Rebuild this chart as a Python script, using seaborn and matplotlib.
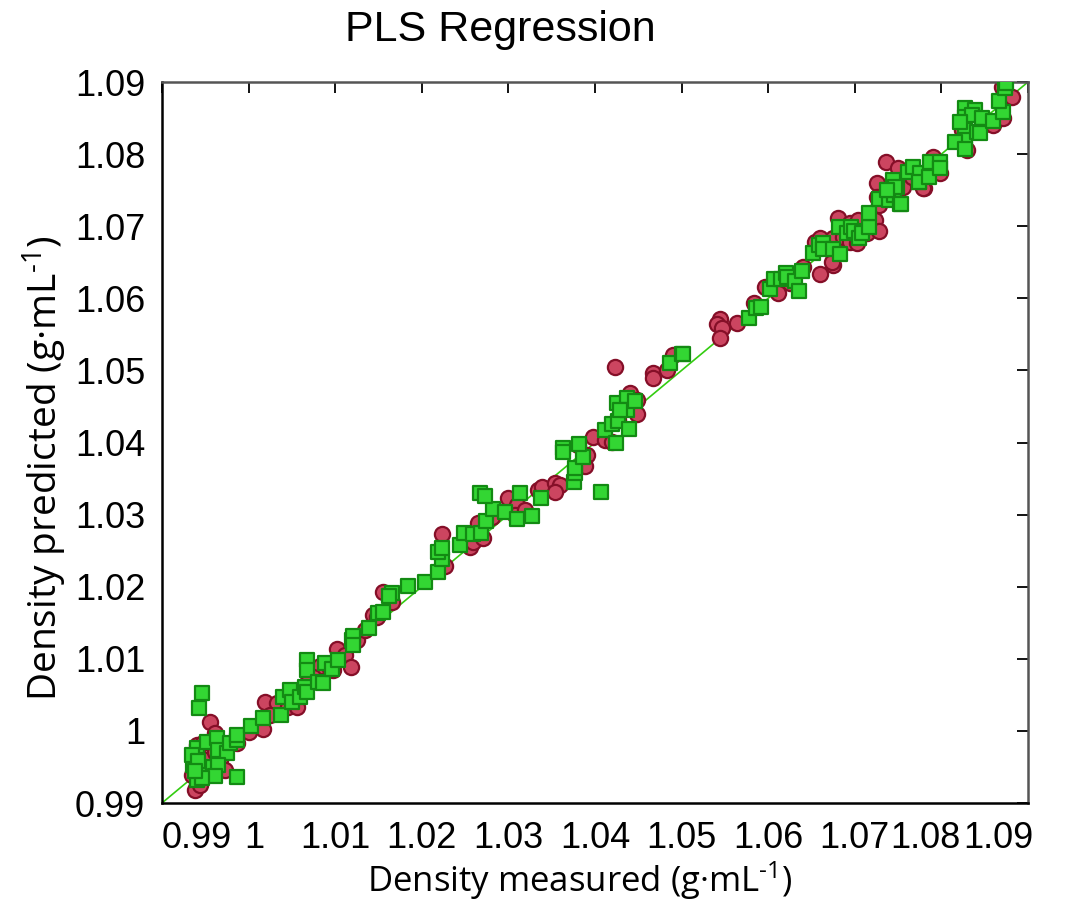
import matplotlib
matplotlib.use("Agg")
import matplotlib.pyplot as plt
import matplotlib.transforms as mtransforms
import seaborn as sns
import pandas as pd
import numpy as np

# Calibration set (red circles)
cal_measured = [
    0.9955, 0.9961, 0.9940, 0.9947, 0.9965, 0.9940, 1.0017, 1.0001, 0.9987, 1.0019,
    1.0033, 1.0025, 1.0046, 1.0056, 1.0054, 1.0082, 1.0092, 1.0102, 1.0111, 1.0118,
    1.0098, 1.0125, 1.0134, 1.0144, 1.0148, 1.0155, 1.0166, 1.0074, 1.0067,
    0.9938, 0.9944, 0.9935, 0.9955, 0.9950, 0.9961, 0.9967, 0.9973,
    1.0223, 1.0227, 1.0256, 1.0265, 1.0259, 1.0271, 1.0281, 1.0300, 1.0310, 1.0308,
    1.0319, 1.0334, 1.0339, 1.0354, 1.0360, 1.0354, 1.0380, 1.0391, 1.0389, 1.0398,
    1.0412, 1.0423, 1.0440, 1.0449, 1.0449, 1.0427, 1.0467, 1.0467, 1.0483, 1.0490, 1.0420,
    1.0544, 1.0541, 1.0547, 1.0544, 1.0564, 1.0584, 1.0596, 1.0611, 1.0625, 1.0640,
    1.0660, 1.0675, 1.0674, 1.0654, 1.0660, 1.0668, 1.0675, 1.0681, 1.0686, 1.0695,
    1.0703, 1.0695, 1.0704, 1.0714, 1.0723, 1.0728, 1.0726, 1.0726, 1.0728, 1.0756, 1.0780,
    1.0736, 1.0750, 1.0790, 1.0798, 1.0779, 1.0766, 1.0830, 1.0825, 1.0848, 1.0860,
    1.0871, 1.0870, 1.0882, 1.0824,
]
cal_predicted = [
    1.0012, 0.9997, 0.9980, 0.9983, 0.9950, 0.9925, 1.0003, 0.9999, 0.9983, 1.0040,
    1.0039, 1.0022, 1.0033, 1.0033, 1.0054, 1.0090, 1.0091, 1.0114, 1.0105, 1.0089,
    1.0085, 1.0126, 1.0140, 1.0161, 1.0158, 1.0193, 1.0179, 1.0075, 1.0066,
    0.9918, 0.9925, 0.9939, 0.9946, 0.9960, 0.9971, 0.9960, 0.9946,
    1.0273, 1.0229, 1.0255, 1.0288, 1.0262, 1.0268, 1.0297, 1.0323, 1.0313, 1.0299,
    1.0306, 1.0334, 1.0338, 1.0344, 1.0341, 1.0331, 1.0397, 1.0383, 1.0367, 1.0408,
    1.0404, 1.0505, 1.0469, 1.0459, 1.0440, 1.0431, 1.0496, 1.0490, 1.0501, 1.0521, 1.0401,
    1.0571, 1.0564, 1.0559, 1.0545, 1.0566, 1.0594, 1.0616, 1.0607, 1.0621, 1.0643,
    1.0634, 1.0646, 1.0650, 1.0678, 1.0684, 1.0670, 1.0684, 1.0711, 1.0685, 1.0678,
    1.0677, 1.0704, 1.0709, 1.0691, 1.0709, 1.0693, 1.0760, 1.0741, 1.0729, 1.0754, 1.0753,
    1.0789, 1.0781, 1.0796, 1.0774, 1.0753, 1.0768, 1.0806, 1.0847, 1.0840, 1.0840,
    1.0850, 1.0893, 1.0879, 1.0833,
]

# Validation set (green squares)
val_measured = [
    0.9946, 0.9943, 0.9987, 0.9940, 0.9952, 0.9964, 0.9965, 0.9975, 0.9979, 0.9987,
    0.9987, 0.9940, 0.9940, 0.9940, 0.9950, 0.9959, 0.9965, 0.9961, 0.9936, 0.9946,
    0.9935, 0.9942, 0.9938,
    1.0003, 1.0017, 1.0037, 1.0040, 1.0048, 1.0050, 1.0059, 1.0065, 1.0067, 1.0067,
    1.0067, 1.0080, 1.0086, 1.0088, 1.0096, 1.0103, 1.0119, 1.0121, 1.0121, 1.0139,
    1.0149, 1.0155, 1.0166, 1.0162, 1.0184, 1.0204, 1.0219,
    1.0223, 1.0219, 1.0223, 1.0244, 1.0249, 1.0259, 1.0268, 1.0274, 1.0282, 1.0267,
    1.0273, 1.0296, 1.0310, 1.0313, 1.0327, 1.0338, 1.0376, 1.0377, 1.0377, 1.0386,
    1.0363, 1.0363, 1.0382, 1.0407, 1.0412, 1.0420, 1.0424, 1.0427, 1.0439, 1.0425,
    1.0437, 1.0437, 1.0446, 1.0429, 1.0487, 1.0500,
    1.0502, 1.0578, 1.0586, 1.0592, 1.0602, 1.0607, 1.0615, 1.0621, 1.0622, 1.0631,
    1.0636, 1.0639, 1.0652, 1.0659, 1.0663, 1.0663, 1.0675, 1.0683, 1.0682, 1.0691,
    1.0696, 1.0699, 1.0705, 1.0708, 1.0716, 1.0716, 1.0728, 1.0740, 1.0745, 1.0752,
    1.0738, 1.0749, 1.0774,
    1.0761, 1.0767, 1.0775, 1.0774, 1.0786, 1.0787, 1.0798, 1.0798, 1.0744, 1.0746,
    1.0737, 1.0753, 1.0827, 1.0839, 1.0827, 1.0835, 1.0847, 1.0827, 1.0827, 1.0816,
    1.0827, 1.0822, 1.0841, 1.0845, 1.0860, 1.0871, 1.0867, 1.0873, 1.0875,
]
val_predicted = [
    1.0053, 1.0032, 0.9936, 0.9976, 0.9985, 0.9990, 0.9974, 0.9969, 0.9983, 0.9987,
    0.9994, 0.9960, 0.9942, 0.9932, 0.9946, 0.9950, 0.9953, 0.9937, 0.9953, 0.9935,
    0.9967, 0.9958, 0.9945,
    1.0007, 1.0018, 1.0022, 1.0047, 1.0057, 1.0040, 1.0047, 1.0061, 1.0054, 1.0098,
    1.0085, 1.0068, 1.0066, 1.0094, 1.0086, 1.0098, 1.0126, 1.0132, 1.0119, 1.0143,
    1.0164, 1.0165, 1.0191, 1.0187, 1.0201, 1.0207, 1.0220,
    1.0238, 1.0248, 1.0254, 1.0258, 1.0275, 1.0273, 1.0275, 1.0291, 1.0308, 1.0330,
    1.0326, 1.0304, 1.0294, 1.0330, 1.0298, 1.0323, 1.0345, 1.0358, 1.0365, 1.0380,
    1.0392, 1.0387, 1.0398, 1.0331, 1.0417, 1.0426, 1.0399, 1.0430, 1.0419, 1.0455,
    1.0462, 1.0445, 1.0458, 1.0445, 1.0510, 1.0523,
    1.0523, 1.0573, 1.0587, 1.0588, 1.0613, 1.0627, 1.0627, 1.0635, 1.0630, 1.0624,
    1.0610, 1.0638, 1.0663, 1.0674, 1.0677, 1.0668, 1.0668, 1.0661, 1.0699, 1.0691,
    1.0699, 1.0693, 1.0684, 1.0691, 1.0699, 1.0718, 1.0738, 1.0736, 1.0743, 1.0731,
    1.0750, 1.0754, 1.0761,
    1.0775, 1.0782, 1.0774, 1.0761, 1.0768, 1.0789, 1.0789, 1.0781, 1.0764, 1.0754,
    1.0750, 1.0731, 1.0864, 1.0861, 1.0852, 1.0854, 1.0850, 1.0833, 1.0820, 1.0817,
    1.0807, 1.0845, 1.0831, 1.0829, 1.0846, 1.0858, 1.0874, 1.0892, 1.0898,
]

ticks = [0.99, 1.00, 1.01, 1.02, 1.03, 1.04, 1.05, 1.06, 1.07, 1.08, 1.09]
tick_labels = ["0.99", "1", "1.01", "1.02", "1.03", "1.04", "1.05", "1.06", "1.07", "1.08", "1.09"]

cal = pd.DataFrame({"measured": cal_measured, "predicted": cal_predicted})
val = pd.DataFrame({"measured": val_measured, "predicted": val_predicted})

sns.set_theme(style="white")
plt.rcParams["font.family"] = ["Liberation Sans", "DejaVu Sans"]
plt.rcParams["text.color"] = "black"
plt.rcParams["axes.labelcolor"] = "black"
plt.rcParams["mathtext.fontset"] = "custom"
plt.rcParams["mathtext.rm"] = "Open Sans"
plt.rcParams["mathtext.it"] = "Open Sans"
plt.rcParams["mathtext.default"] = "regular"

fig = plt.figure(figsize=(10.71, 9.16), dpi=100)
ax = fig.add_axes([162 / 1071, 1 - 803 / 916, (1028 - 162) / 1071, (803 - 82) / 916])

ax.plot([ticks[0], ticks[-1]], [ticks[0], ticks[-1]], color="#33cc11", lw=1.2, zorder=1)

sns.scatterplot(data=cal, x="measured", y="predicted", ax=ax, marker="o", s=120,
                color="#cc4560", edgecolor="#850f28", linewidth=1.6, zorder=2)
sns.scatterplot(data=val, x="measured", y="predicted", ax=ax, marker="s", s=90,
                color="#33d633", edgecolor="#138a13", linewidth=1.6, zorder=3)

ax.set_xlim(ticks[0], ticks[-1])
ax.set_ylim(ticks[0], ticks[-1])
ax.set_xticks(ticks)
ax.set_yticks(ticks)
ax.set_xticklabels(tick_labels)
ax.set_yticklabels(tick_labels)

ax.tick_params(axis="both", direction="in", length=8, width=1.3, colors="black",
               top=True, right=True)
ax.tick_params(axis="x", pad=13, labelsize=26)
ax.tick_params(axis="y", pad=12, labelsize=26)

xl = ax.get_xticklabels()
xl[0].set_horizontalalignment("left")
xl[-1].set_horizontalalignment("right")
def shifted(lbl, dx_px):
    off = mtransforms.ScaledTranslation(dx_px / 100, 0, fig.dpi_scale_trans)
    lbl.set_transform(lbl.get_transform() + off)
shifted(xl[1], 6)
shifted(xl[-2], -16)
shifted(xl[-1], 5)

for side in ["left", "bottom"]:
    ax.spines[side].set_color("black")
    ax.spines[side].set_linewidth(1.8)
for side in ["top", "right"]:
    ax.spines[side].set_color("#555555")
    ax.spines[side].set_linewidth(1.8)

ax.set_xlabel("Density measured (g·mL$^{\\text{-1}}$)", fontsize=25, family="Open Sans",
              labelpad=2)
ax.xaxis.label.set_x(0.483)
ax.set_ylabel("Density predicted (g·mL$^{\\text{-1}}$)", fontsize=28, family="Open Sans",
              labelpad=4)
ax.yaxis.label.set_y(0.465)

fig.text(500 / 1071, 1 - 30 / 916, "PLS Regression", fontsize=31, ha="center", va="center",
         color="black")

fig.savefig("out.png", dpi=100)
